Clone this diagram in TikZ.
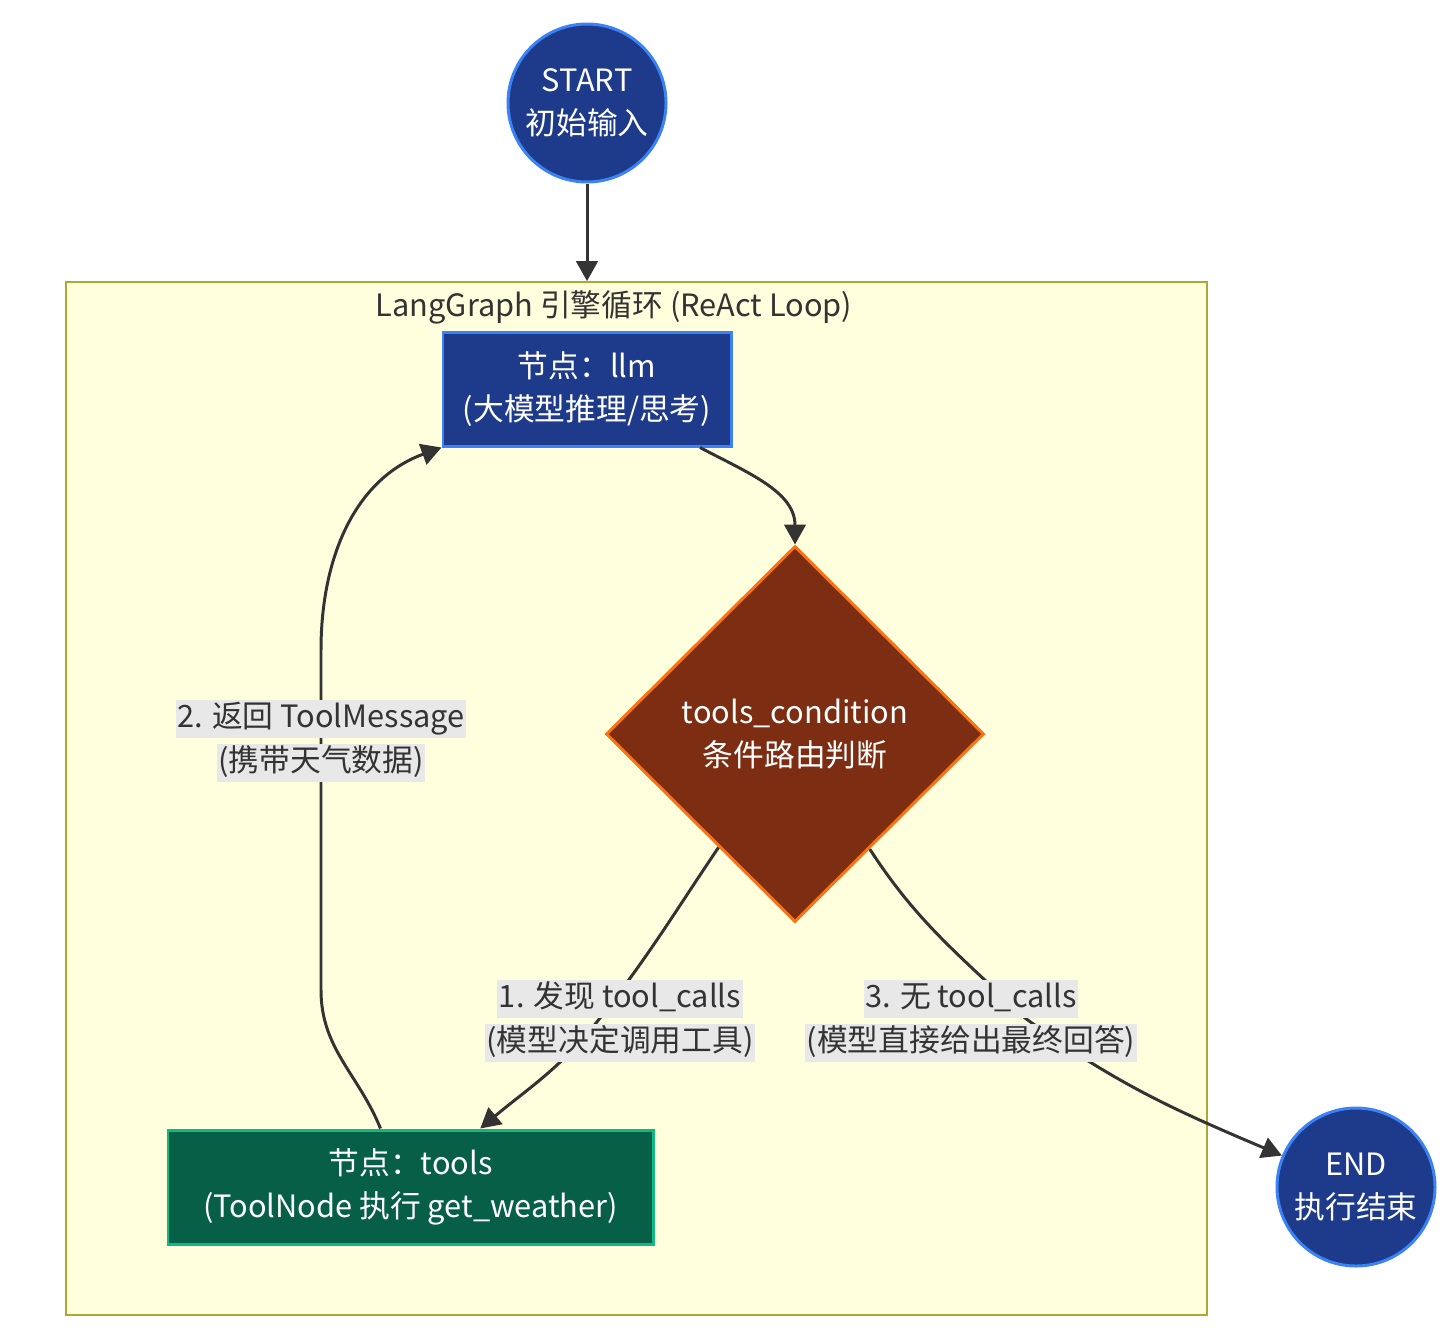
\documentclass[tikz,border=0pt]{standalone}
\usepackage{fontspec}
\setmainfont{Noto Sans CJK SC}
\usetikzlibrary{shapes.geometric,arrows.meta,positioning,calc}
\usepackage{xcolor}
\definecolor{termfill}{RGB}{30,58,138}
\definecolor{termline}{RGB}{59,130,246}
\definecolor{condfill}{RGB}{124,45,18}
\definecolor{condline}{RGB}{249,115,22}
\definecolor{toolfill}{RGB}{6,95,70}
\definecolor{toolline}{RGB}{16,185,129}
\definecolor{loopfill}{RGB}{255,255,222}
\definecolor{loopline}{RGB}{170,170,51}
\definecolor{inkcol}{RGB}{51,51,51}
\definecolor{lblbg}{RGB}{232,232,232}
\newcommand{\lblline}[1]{{\setlength{\fboxsep}{1pt}\colorbox{lblbg}{\rule[-5pt]{0pt}{19.5pt}#1}}}

\begin{document}
\begin{tikzpicture}[
    x=0.2mm, y=0.2mm,
    >={Triangle[length=4mm, width=4.3mm]},
    txt/.style={font=\fontsize{17.5pt}{24.5pt}\selectfont, align=center},
    term/.style={txt, circle, minimum size=3.16cm, inner sep=0pt, fill=termfill, draw=termline, line width=1.7pt, text=white},
    proc/.style={txt, rectangle, minimum height=2.28cm, inner sep=0pt, draw, line width=1.7pt, text=white},
    decide/.style={txt, diamond, minimum width=7.56cm, minimum height=7.52cm, inner sep=0pt, fill=condfill, draw=condline, line width=1.7pt, text=white},
    loopbox/.style={rectangle, fill=loopfill, draw=loopline, line width=1pt, minimum width=22.82cm, minimum height=20.66cm},
    edge/.style={->, draw=inkcol, line width=1.7pt},
    elabel/.style={font=\fontsize{17.5pt}{25pt}\selectfont, align=center, text=inkcol, inner sep=0pt},
]
\useasboundingbox (0,0) rectangle (1448,-1332);

% subgraph
\node[loopbox] (loop) at (636.5,-798.5) {};
\node[txt, text=inkcol] (looptitle) at (614,-307) {LangGraph 引擎循环 (ReAct Loop)};

% nodes
\node[term] (start) at (587,-103) {START\\初始输入};
\node[proc, fill=termfill, draw=termline, minimum width=5.76cm] (llm) at (587,-389) {节点：llm\\(大模型推理/思考)};
\node[decide] (cond) at (795,-734) {tools\_condition\\条件路由判断};
\node[proc, fill=toolfill, draw=toolline, minimum width=9.7cm] (tools) at (410.5,-1187) {节点：tools\\(ToolNode 执行 get\_weather)};
\node[term] (end) at (1356,-1187) {END\\执行结束};

% waypoints
\coordinate (m1) at (600,-1018);
\coordinate (m3) at (1025,-1018);
\coordinate (r1) at (321,-990);
\coordinate (r2) at (321,-650);

% edges
\draw[edge] (start) -- (start |- loop.north);
\draw[edge] ($(llm.south)+(113,0)$) to[out=-28,in=90] (cond.north);
\draw[edge] (cond) to[out=-124,in=52] (m1) to[out=-128,in=40] (tools);
\draw[edge] (cond) to[out=-57,in=136] (m3) to[out=-36,in=157] (end);
\draw[edge] ($(tools.north)+(-30,0)$) to[out=112,in=-90] (r1) -- (r2) to[out=90,in=-160] (llm.south west);

% edge labels
\node[elabel] (lab2) at (321,-741) {\lblline{2. 返回 ToolMessage}\\\lblline{(携带天气数据)}};
\node[elabel] (lab1) at (620,-1021) {\lblline{1. 发现 tool\_calls}\\\lblline{(模型决定调用工具)}};
\node[elabel] (lab3) at (971,-1021) {\lblline{3. 无 tool\_calls}\\\lblline{(模型直接给出最终回答)}};
\end{tikzpicture}
\end{document}
